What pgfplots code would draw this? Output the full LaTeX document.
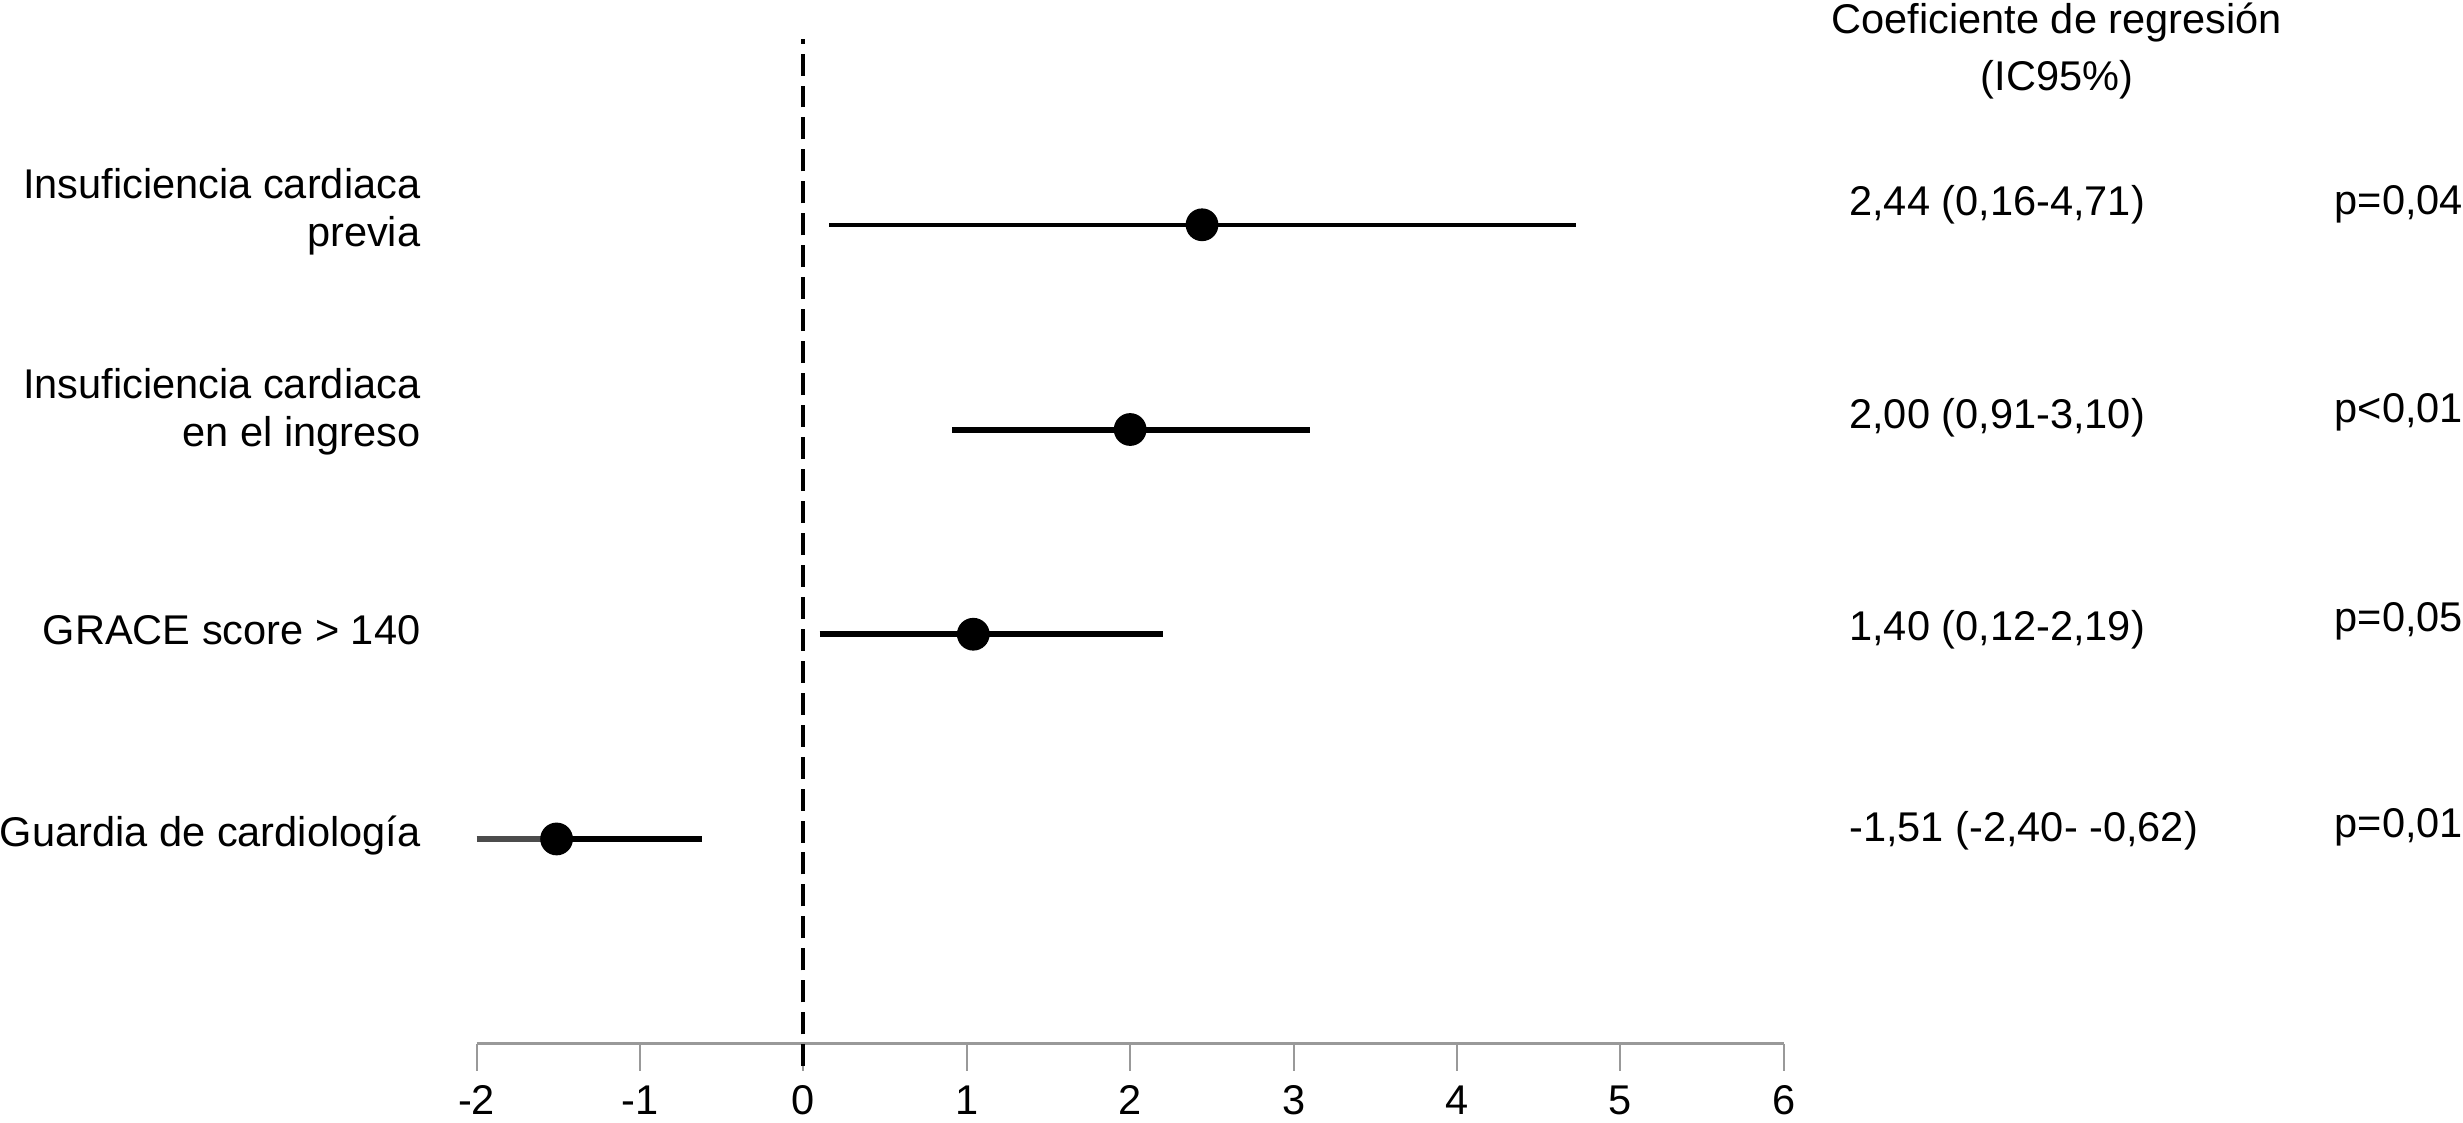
\documentclass[border=0pt]{standalone}
\usepackage{fontspec}
\setmainfont{Liberation Sans}
\usepackage{pgfplots}
\pgfplotsset{compat=1.18}
\begin{document}
\fontsize{10.4pt}{12pt}\selectfont
\begin{tikzpicture}
\begin{axis}[
  scale only axis,
  width=327.25pt, height=256.25pt,
  xmin=-2, xmax=6, ymin=0, ymax=5,
  axis x line*=bottom,
  hide y axis,
  axis line style={-, draw=gray!80, line width=0.75pt},
  xtick={-2,-1,0,1,2,3,4,5,6},
  xticklabels={-2,-1,0,1,2,3,4,5,6},
  xticklabel style={inner sep=0pt, yshift=-3.5pt},
  tick align=outside,
  major tick length=6.75pt,
  tick style={gray!80, line width=0.5pt},
  clip=false,
]
% page frame, same proportions as the reference
\path (axis cs:-4.912,-0.385) rectangle (axis cs:10.143,5.098);

% reference line at 0
\addplot[black, line width=1pt, dash pattern=on 5.5pt off 2.5pt] coordinates {(0,-0.11) (0,4.907)};

% 95% CI
\addplot[black, line width=1pt] coordinates {(0.16,4) (4.73,4)};
\addplot[black, line width=1.5pt] coordinates {(0.91,3) (3.10,3)};
\addplot[black, line width=1.5pt] coordinates {(0.10,2) (2.20,2)};
\addplot[black!70, line width=1.6pt] coordinates {(-2.00,1) (-1.51,1)};
\addplot[black, line width=1.6pt] coordinates {(-1.51,1) (-0.62,1)};

% estimates
\addplot[only marks, mark=*, mark size=3.9pt, black] coordinates {
  (2.44,4) (2.00,3) (1.04,2) (-1.51,1)
};

% row labels
\node[anchor=east, align=right, inner sep=0pt] at (axis cs:-2.339,4.063) {Insuficiencia cardiaca\\previa};
\node[anchor=east, align=right, inner sep=0pt] at (axis cs:-2.339,3.085) {Insuficiencia cardiaca\\en el ingreso};
\node[anchor=east, inner sep=0pt] at (axis cs:-2.339,2.02) {GRACE score > 140};
\node[anchor=east, inner sep=0pt] at (axis cs:-2.339,1.015) {Guardia de cardiología};

% table on the right
\node[inner sep=0pt] at (axis cs:7.671,4.99) {Coeficiente de regresión};
\node[inner sep=0pt] at (axis cs:7.671,4.707) {(IC95\%)};
\node[anchor=west, inner sep=0pt] at (axis cs:6.396,4.098) {2,44 (0,16-4,71)};
\node[anchor=west, inner sep=0pt] at (axis cs:6.396,3.059) {2,00 (0,91-3,10)};
\node[anchor=west, inner sep=0pt] at (axis cs:6.396,2.024) {1,40 (0,12-2,19)};
\node[anchor=west, inner sep=0pt] at (axis cs:6.396,1.039) {-1,51 (-2,40- -0,62)};
\node[anchor=west, inner sep=0pt] at (axis cs:9.367,4.098) {p=0,04};
\node[anchor=west, inner sep=0pt] at (axis cs:9.367,3.083) {p<0,01};
\node[anchor=west, inner sep=0pt] at (axis cs:9.367,2.063) {p=0,05};
\node[anchor=west, inner sep=0pt] at (axis cs:9.367,1.059) {p=0,01};
\end{axis}
\end{tikzpicture}
\end{document}
